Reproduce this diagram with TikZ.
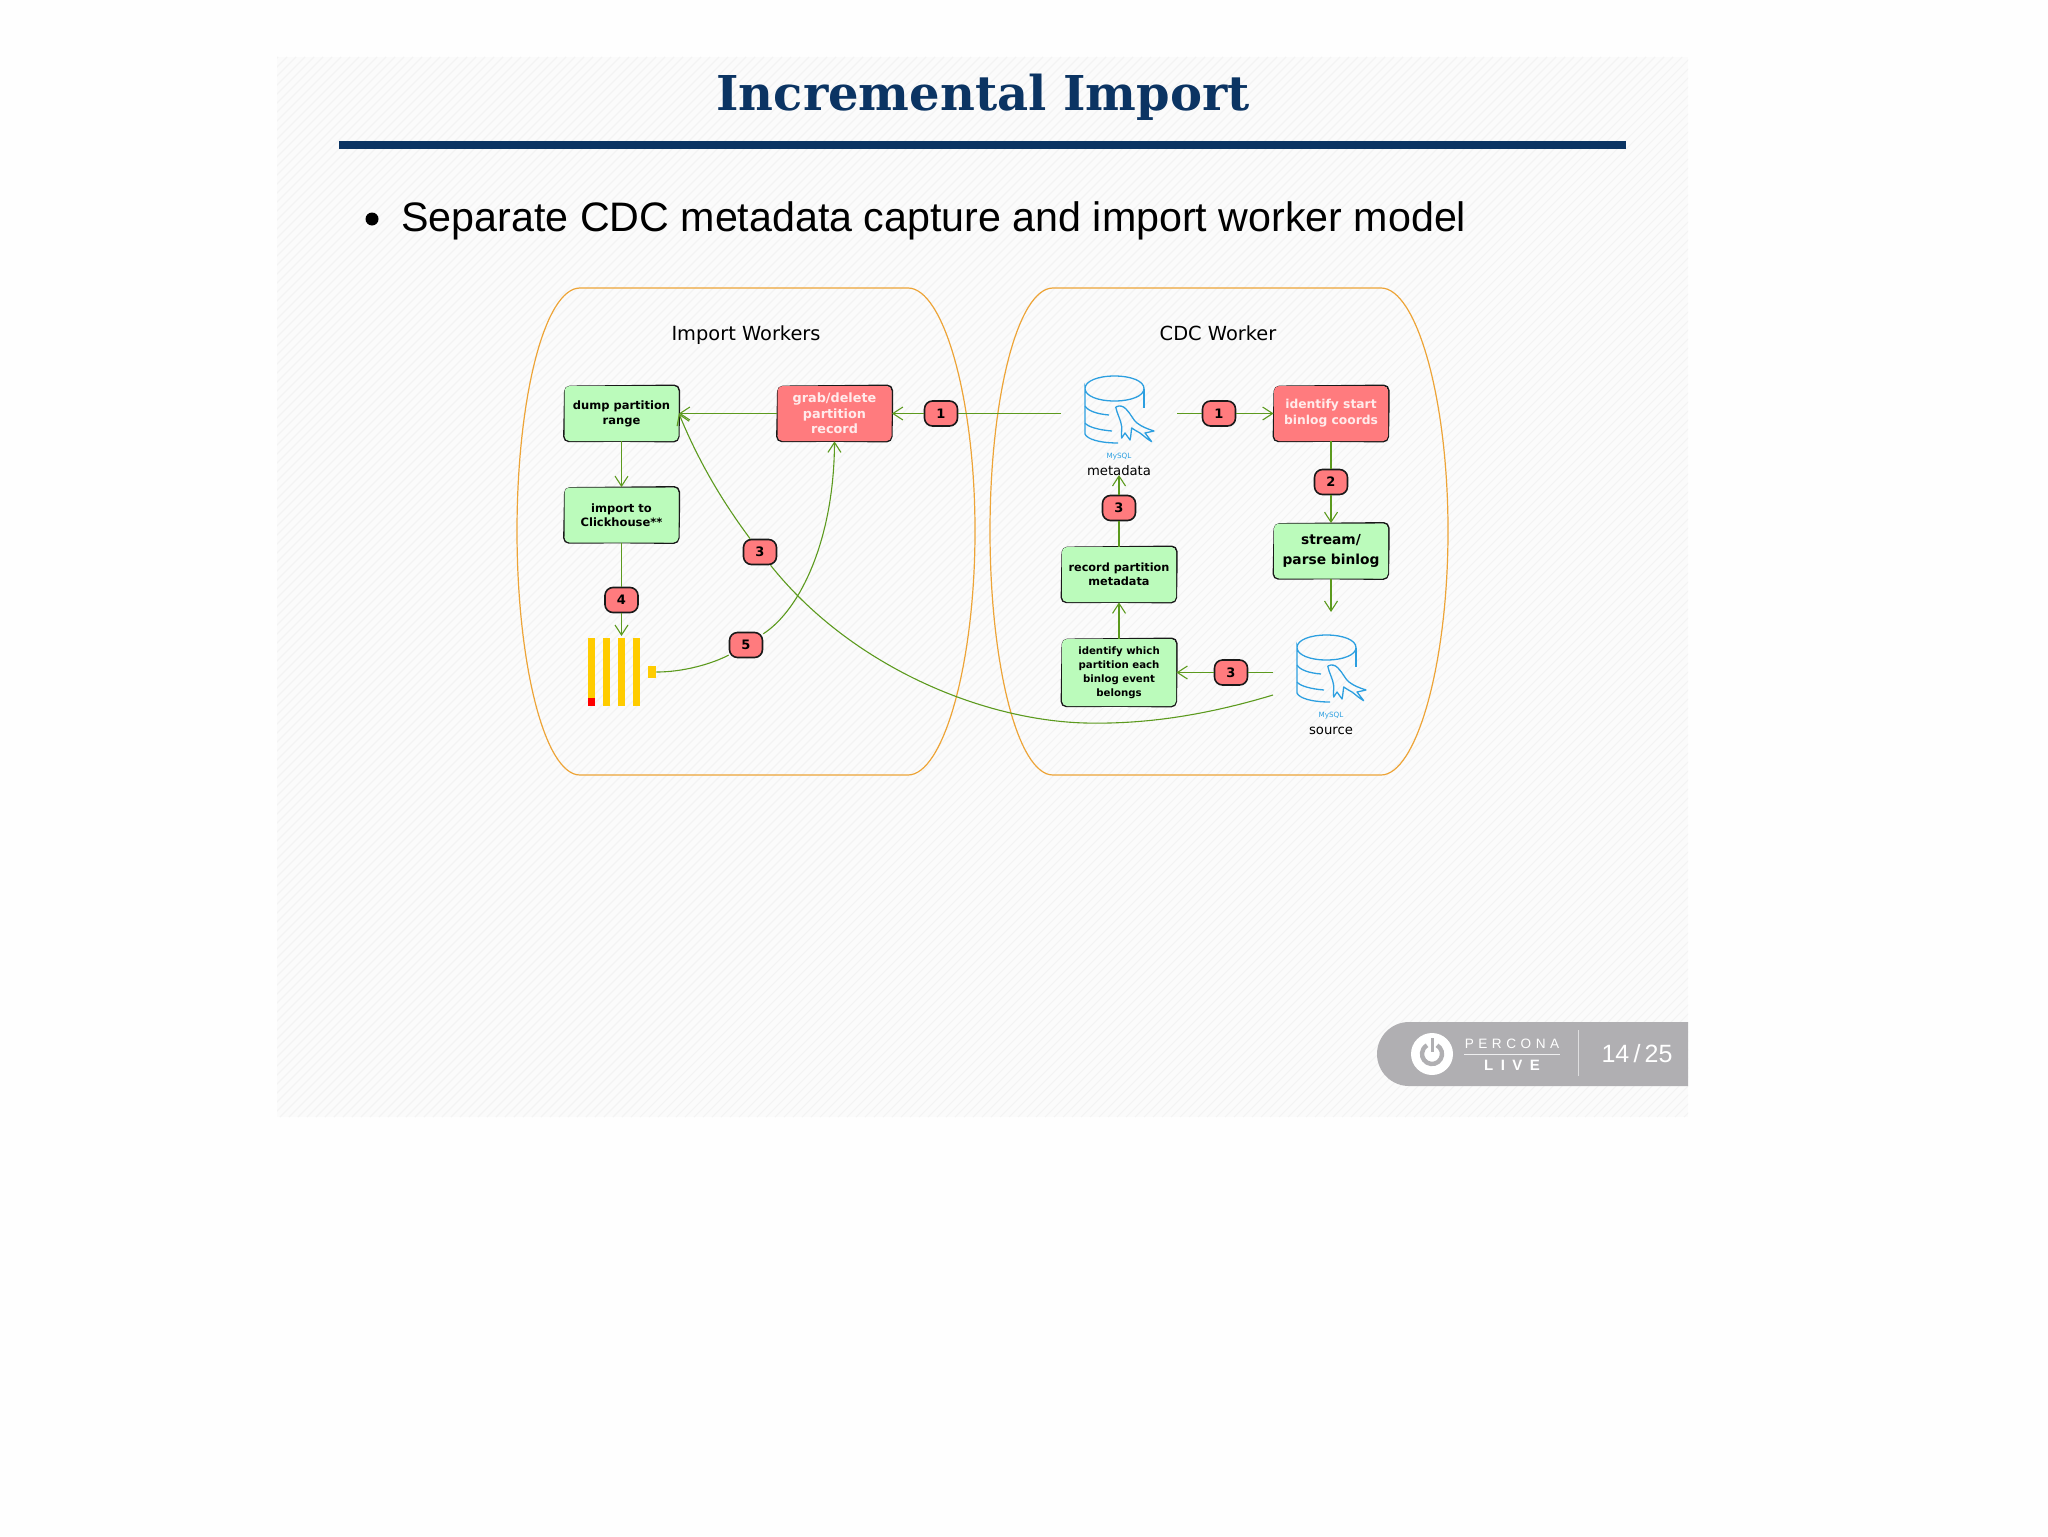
\documentclass[tikz,border=0pt]{standalone}
\usepackage{fontspec}
\setmainfont{DejaVu Sans}
\newfontfamily\titlefont{DejaVu Serif}
\newfontfamily\bodyfont{Liberation Sans}
\usetikzlibrary{arrows.meta}

\definecolor{navy}{HTML}{0B3463}
\definecolor{slidebg}{HTML}{FBFBFB}
\definecolor{hatch}{HTML}{F3F3F3}
\definecolor{pillline}{HTML}{EDA437}
\definecolor{flowgreen}{HTML}{5C9A1E}
\definecolor{boxgreen}{HTML}{BBFBBB}
\definecolor{boxred}{HTML}{FF7B7E}
\definecolor{dbblue}{HTML}{2C9FE0}
\definecolor{barorange}{HTML}{FFCC00}
\definecolor{footgrey}{HTML}{B0AFB2}

\begin{document}
\begin{tikzpicture}[
  x=0.5pt, y=-0.5pt,
  sketch/.style={rounded corners=2.5pt, append after command={\pgfextra{
    \draw[black!90, line width=0.8pt, rounded corners=2.5pt]
      ([shift={(0.8,0.8)}]\tikzlastnode.north west) -- ([shift={(0,0.3)}]\tikzlastnode.north)
      -- ([shift={(0.3,-0.3)}]\tikzlastnode.north east) -- ([shift={(0.3,0)}]\tikzlastnode.east)
      -- ([shift={(-0.3,0.3)}]\tikzlastnode.south east) -- ([shift={(0,-0.3)}]\tikzlastnode.south)
      -- ([shift={(-0.3,0)}]\tikzlastnode.south west) -- ([shift={(0.3,0)}]\tikzlastnode.west)
      -- cycle;}}},
  greenbox/.style={sketch, fill=boxgreen, minimum width=57pt, minimum height=27.5pt,
                   inner sep=0pt, align=center, font=\bfseries\fontsize{5.75}{7.6}\selectfont},
  redbox/.style={greenbox, fill=boxred, text=white!92!red},
  badge/.style={draw=black!90, line width=0.8pt, rounded corners=4pt, fill=boxred,
                minimum width=16.5pt, minimum height=12.5pt,
                inner sep=0pt, font=\bfseries\fontsize{6.5}{7}\selectfont},
  flow/.style={draw=flowgreen, line width=0.55pt, -{Straight Barb[length=5pt,width=6.5pt]}},
  flowplain/.style={draw=flowgreen, line width=0.55pt},
  bar/.style={fill=barorange},
  mysqldb/.pic={
    \draw[dbblue, line width=0.65pt] (0,12.5) .. controls (0,5) and (13,0) .. (29.5,0)
      .. controls (46,0) and (59,5) .. (59,12.5) .. controls (59,20) and (46,25) .. (29.5,25)
      .. controls (13,25) and (0,20) .. (0,12.5) -- (0,58)
      .. controls (2,63) and (14,67) .. (33,67);
    \draw[dbblue, line width=0.65pt] (59,12.5) -- (59,32);
    \draw[dbblue, line width=0.65pt] (0,30) .. controls (3,35) and (12,38) .. (24,39);
    \draw[dbblue, line width=0.65pt] (0,47) .. controls (3,51) and (14,54) .. (27,55);
    \draw[dbblue, line width=0.65pt, line join=round] (30.7,31) .. controls (35,29) and (38,30) .. (41,33)
      .. controls (46,38) and (48,44) .. (52,47) .. controls (57,51) and (63,53) .. (69,55)
      -- (60,57) -- (66.7,65.7) .. controls (62,63) and (59,60) .. (55,57)
      .. controls (52,55) and (49,54) .. (46.7,52) .. controls (46,56) and (46,60) .. (45,64)
      -- (40,57) -- (36.7,62) .. controls (36,58) and (37,54) .. (36.7,50.7)
      .. controls (36,44) and (32,38) .. (30.7,31);
  }
]

\useasboundingbox (0,0) rectangle (2048,1536);
\fill[white!99.5!black] (0,0) rectangle (2048,1536);

\begin{scope}
  \clip (277,57) rectangle (1688,1117);
  \fill[slidebg] (277,57) rectangle (1688,1117);
  \foreach \hx in {-800,-791,...,1700}
    \draw[hatch, line width=0.55pt] (\hx,1117) -- ++(1060,-1060);
\end{scope}

\node (title) at (983,97) [text=navy, font=\titlefont\bfseries\fontsize{24}{28}\selectfont] {Incremental Import};
\fill[navy] (339,141) rectangle (1626,149);
\node (dot) at (372,219) [circle, fill=black, inner sep=0pt, minimum size=6.5pt] {};
\node (lead) at (401,221) [anchor=west, inner sep=0pt, font=\bodyfont\fontsize{20.6}{24}\selectfont] {Separate CDC metadata capture and import worker model};

\foreach \pillshift in {0pt,236.5pt}
  \draw[pillline, line width=0.6pt, xshift=\pillshift]
    (580,288) -- (908,288) .. controls (943,288) and (975,397) .. (975,531)
    .. controls (975,665) and (943,775) .. (908,775) -- (580,775)
    .. controls (545,775) and (517,665) .. (517,531)
    .. controls (517,397) and (545,288) .. (580,288);

\node (importlabel) at (746,335.5) [font=\fontsize{9.7}{12}\selectfont] {Import Workers};
\node (cdclabel) at (1218,333) [font=\fontsize{9.7}{12}\selectfont] {CDC Worker};

\node (dump) at (621.5,413.5) [greenbox] {dump partition\\range};
\node (grab) at (834.5,413.5) [redbox, font=\bfseries\fontsize{6.4}{7.8}\selectfont] {grab/delete\\partition\\record};
\node (import) at (621.5,515) [greenbox, font=\bfseries\fontsize{5.75}{7.2}\selectfont] {import to\\Clickhouse**};
\node (startcoords) at (1331,413.5) [redbox, font=\bfseries\fontsize{6.15}{8}\selectfont] {identify start\\binlog coords};
\node (stream) at (1331,551) [greenbox, font=\bfseries\fontsize{6.9}{9.6}\selectfont] {stream/\\parse binlog};
\node (record) at (1119,574.5) [greenbox, font=\bfseries\fontsize{5.65}{7}\selectfont] {record partition\\metadata};
\node (which) at (1119,672.5) [greenbox, minimum height=33.5pt, font=\bfseries\fontsize{5.1}{7}\selectfont] {identify which\\partition each\\binlog event\\belongs};

\pic at (1085,376) {mysqldb};
\pic at (1297,635) {mysqldb};
\node (mysqla) at (1119,457) [text=dbblue, font=\fontsize{3.6}{4}\selectfont] {MySQL};
\node (metadata) at (1119,471) [font=\fontsize{6.6}{8}\selectfont] {metadata};
\node (mysqlb) at (1331,716) [text=dbblue, font=\fontsize{3.6}{4}\selectfont] {MySQL};
\node (source) at (1331,731) [font=\fontsize{6.6}{8}\selectfont] {source};

\fill[bar] (587.7,638) rectangle (595,706);
\fill[red] (587.7,698) rectangle (595,706);
\fill[bar] (602.7,638) rectangle (610,706);
\fill[bar] (617.7,638) rectangle (625,706);
\fill[bar] (632.7,638) rectangle (640,706);
\node (queue) at (652,672) [bar, minimum width=4pt, minimum height=6pt, inner sep=0pt] {};

\coordinate (metaleft) at (1061,413.5);
\coordinate (metaright) at (1177,413.5);
\coordinate (metabottom) at (1119,475);
\coordinate (sourcetop) at (1331,612);
\coordinate (sourceleft) at (1273,672.5);
\coordinate (sourcelow) at (1273,695);
\coordinate (barstop) at (621.5,636);

\node (badgegrab) at (941,413.5) [badge] {1};
\node (badgestart) at (1219,413.5) [badge] {1};
\node (badgestream) at (1331,482) [badge] {2};
\node (badgerecord) at (1119,508) [badge] {3};
\node (badgewhich) at (1231,672.5) [badge] {3};
\node (badgedump) at (760,552) [badge] {3};
\node (badgebars) at (621.5,600) [badge] {4};
\node (badgequeue) at (746,645) [badge] {5};

\draw[flowplain] (metaleft) -- (badgegrab);
\draw[flow] (badgegrab) -- (grab);
\draw[flow] (grab) -- (dump);
\draw[flow] (dump) -- (import);
\draw[flowplain] (import) -- (badgebars);
\draw[flow] (badgebars) -- (barstop);
\draw[flowplain] (metaright) -- (badgestart);
\draw[flow] (badgestart) -- (startcoords);
\draw[flowplain] (startcoords) -- (badgestream);
\draw[flow] (badgestream) -- (stream);
\draw[flow] (stream) -- (sourcetop);
\draw[flowplain] (sourceleft) -- (badgewhich);
\draw[flow] (badgewhich) -- (which);
\draw[flow] (which) -- (record);
\draw[flowplain] (record) -- (badgerecord);
\draw[flow] (badgerecord) -- (metabottom);
\draw[flowplain] (sourcelow) .. controls (1190,720) and (1130,724) .. (1085,723)
  .. controls (980,720) and (850,665) .. (badgedump);
\draw[flow] (badgedump) .. controls (725,505) and (700,465) .. (dump.east);
\draw[flowplain] (queue) .. controls (690,672) and (720,660) .. (badgequeue);
\draw[flow] (badgequeue) .. controls (800,610) and (834,540) .. (grab.south);

\fill[footgrey] (1688,1022) -- (1409,1022) arc[start angle=-90, end angle=-270, radius=32] -- (1688,1086) -- cycle;
\node (logo) at (1432,1054) [circle, fill=white, minimum size=21pt, inner sep=0pt] {};
\draw[footgrey, line width=2.2pt] (1437,1045.3) arc[start angle=-60, end angle=240, radius=10];
\draw[footgrey, line width=1.5pt] (1432,1038) -- (1432,1052);
\node (percona) at (1512,1044) [text=white, font=\bodyfont\fontsize{6.8}{8}\selectfont] {P\,\,E\,\,R\,\,C\,\,O\,\,N\,\,A};
\node (live) at (1512,1065) [text=white, font=\bodyfont\bfseries\fontsize{7.5}{9}\selectfont] {L\,\,\,I\,\,\,V\,\,\,E};
\draw[white!80!footgrey, line width=0.4pt] (1464,1054) -- (1560,1054);
\draw[white!60!footgrey, line width=0.4pt] (1578,1030) -- (1578,1076);
\node (page) at (1637,1054) [text=white, font=\bodyfont\fontsize{12.5}{14}\selectfont] {14\,/\,25};

\end{tikzpicture}
\end{document}
